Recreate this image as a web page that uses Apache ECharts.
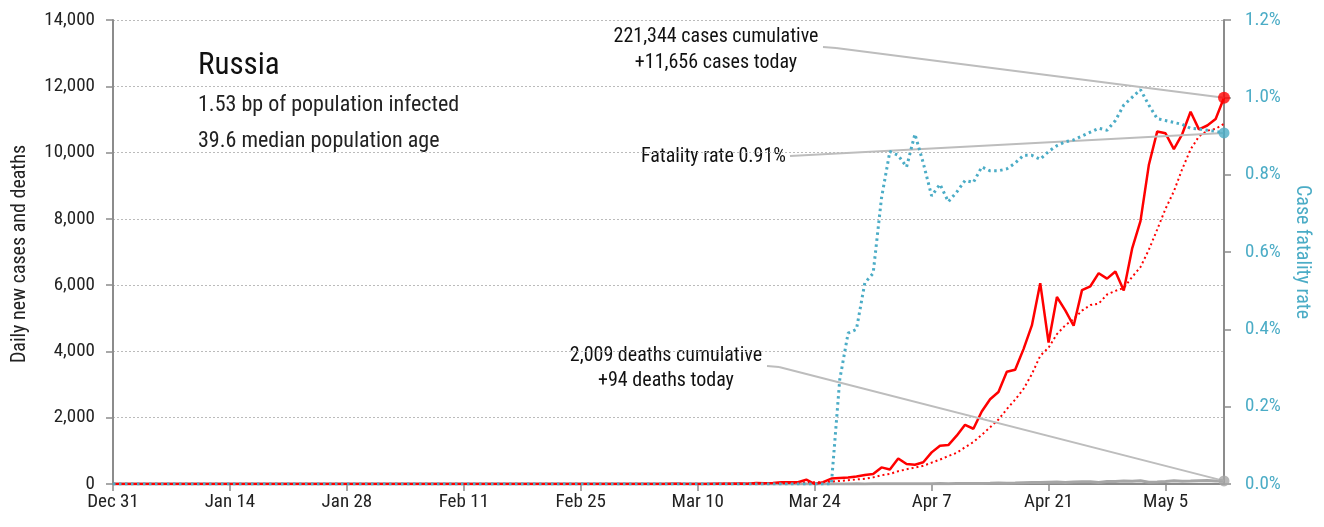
<!DOCTYPE html>
<html>
<head>
<meta charset="utf-8">
<script src="https://cdn.jsdelivr.net/npm/echarts@6/dist/echarts.min.js"></script>
<style>
  html, body { margin: 0; padding: 0; background: #fff; }
  #chart { width: 1324px; height: 527px; }
</style>
</head>
<body>
<div id="chart"></div>
<script>
// daily values, one per day from Dec 31 to May 12 (rows of 14 days)
const dailyCases = [
  0, 0, 0, 0, 0, 0, 0, 0, 0, 0, 0, 0, 0, 0,
  0, 0, 0, 0, 0, 0, 0, 0, 0, 0, 0, 0, 0, 0,
  0, 0, 0, 0, 2, 0, 0, 0, 0, 0, 0, 0, 0, 0,
  0, 0, 0, 0, 0, 0, 0, 0, 0, 0, 0, 0, 0, 0,
  0, 0, 0, 0, 0, 0, 0, 1, 0, 0, 1, 6, 4, 3,
  0, 3, 8, 6, 11, 14, 4, 30, 21, 33, 52, 54, 53, 132,
  0, 57, 163, 182, 196, 228, 270, 302, 501, 440, 771, 601, 582, 658,
  954, 1154, 1175, 1459, 1786, 1667, 2186, 2558, 2774, 3388, 3448, 4070, 4785, 6060,
  4268, 5642, 5236, 4774, 5849, 5966, 6361, 6198, 6411, 5841, 7099, 7933, 9623, 10633,
  10581, 10102, 10559, 11231, 10699, 10817, 11012, 11656
]

// 7-day average of new cases (dotted red)
const avgCases = [
  0, 0, 0, 0, 0, 0, 0, 0, 0, 0, 0, 0, 0, 0,
  0, 0, 0, 0, 0, 0, 0, 0, 0, 0, 0, 0, 0, 0,
  0, 0, 0, 0, 0, 0, 0, 0, 0, 0, 0, 0, 0, 0,
  0, 0, 0, 0, 0, 0, 0, 0, 0, 0, 0, 0, 0, 0,
  0, 0, 0, 0, 0, 0, 0, 0.1, 0.1, 0.1, 0.3, 1.1, 1.7, 2.1,
  2.0, 2.4, 3.6, 4.3, 5.0, 6.4, 6.6, 10.9, 13.4, 17.0, 23.6, 29.7, 35.3, 53.6,
  49.3, 54.4, 73, 91.6, 111.9, 136.9, 156.6, 199.7, 263.1, 302.7, 386.9, 444.7, 495.3, 550.7,
  643.9, 737.1, 842.1, 940.4, 1109.7, 1264.7, 1483, 1712.1, 1943.6, 2259.7, 2543.9, 2870.1, 3315.6, 3869,
  4113.3, 4523, 4787, 4976.4, 5230.6, 5399.3, 5442.3, 5718, 5827.9, 5914.3, 6246.4, 6544.1, 7066.6, 7676.9,
  8303, 8830.3, 9504.3, 10094.6, 10489.7, 10660.3, 10714.4, 10868
]

const dailyDeaths = [
  0, 0, 0, 0, 0, 0, 0, 0, 0, 0, 0, 0, 0, 0,
  0, 0, 0, 0, 0, 0, 0, 0, 0, 0, 0, 0, 0, 0,
  0, 0, 0, 0, 0, 0, 0, 0, 0, 0, 0, 0, 0, 0,
  0, 0, 0, 0, 0, 0, 0, 0, 0, 0, 0, 0, 0, 0,
  0, 0, 0, 0, 0, 0, 0, 0, 0, 0, 0, 0, 0, 0,
  0, 0, 0, 0, 0, 0, 0, 0, 0, 0, 0, 0, 0, 0,
  0, 1, 2, 0, 1, 4, 1, 8, 7, 6, 4, 9, 4, 11,
  5, 12, 5, 16, 12, 18, 18, 22, 28, 24, 28, 40, 48, 44,
  51, 57, 42, 60, 66, 66, 47, 73, 72, 91, 84, 96, 53, 58,
  76, 95, 86, 88, 98, 104, 88, 94
]

// case fatality rate, percent (dotted blue, right axis)
const fatalityRate = [
  0, 0, 0, 0, 0, 0, 0, 0, 0, 0, 0, 0, 0, 0,
  0, 0, 0, 0, 0, 0, 0, 0, 0, 0, 0, 0, 0, 0,
  0, 0, 0, 0, 0, 0, 0, 0, 0, 0, 0, 0, 0, 0,
  0, 0, 0, 0, 0, 0, 0, 0, 0, 0, 0, 0, 0, 0,
  0, 0, 0, 0, 0, 0, 0, 0, 0, 0, 0, 0, 0, 0,
  0, 0, 0, 0, 0, 0, 0, 0, 0, 0, 0, 0, 0, 0,
  0, 0, 0, 0.27, 0.39, 0.40, 0.52, 0.545, 0.74, 0.86, 0.85, 0.82, 0.905, 0.83,
  0.745, 0.775, 0.73, 0.755, 0.785, 0.78, 0.82, 0.81, 0.81, 0.815, 0.83, 0.85, 0.85, 0.84,
  0.86, 0.875, 0.885, 0.89, 0.90, 0.91, 0.92, 0.915, 0.94, 0.98, 1.00, 1.02, 0.98, 0.945,
  0.94, 0.935, 0.93, 0.92, 0.918, 0.915, 0.912, 0.908
]

const monthNames = ['Jan', 'Feb', 'Mar', 'Apr', 'May', 'Jun', 'Jul', 'Aug', 'Sep', 'Oct', 'Nov', 'Dec']
const dates = []
for (let i = 0; i < dailyCases.length; i++) {
  const d = new Date(2019, 11, 31 + i)
  dates.push(monthNames[d.getMonth()] + ' ' + d.getDate())
}
const last = dates.length - 1
const lastDate = dates[last]

const FONT = '"Roboto Condensed", sans-serif'
const RED = '#ff0000'
const BLUE = '#4bacc6'
const GREY = '#a6a6a6'
const LEADER = '#bdbdbd'
const everyTwoWeeks = (i) => i % 14 === 0

const leader = (segments) => ({
  silent: true,
  symbol: ['none', 'none'],
  label: { show: false },
  emphasis: { disabled: true },
  lineStyle: { type: 'solid', color: LEADER, width: 2 },
  animation: false,
  data: segments
})

const chart = echarts.init(document.getElementById('chart'))
chart.setOption({
  animation: false,
  textStyle: { fontFamily: FONT },
  grid: { left: 113, right: 100, top: 20, bottom: 43 },
  xAxis: {
    type: 'category',
    data: dates,
    boundaryGap: false,
    axisLine: { lineStyle: { color: '#8c8c8c', width: 2 } },
    axisTick: { interval: everyTwoWeeks, length: 7, lineStyle: { color: '#8c8c8c', width: 1.5 } },
    axisLabel: { interval: everyTwoWeeks, fontSize: 19, color: '#222', margin: 9, fontFamily: FONT },
    splitLine: { show: false }
  },
  yAxis: [{
    type: 'value',
    min: 0,
    max: 14000,
    interval: 2000,
    axisLine: { show: true, lineStyle: { color: '#8c8c8c', width: 2 } },
    axisTick: { show: true, length: 7, lineStyle: { color: '#8c8c8c', width: 1.5 } },
    axisLabel: { fontSize: 19, color: '#222', margin: 18, fontFamily: FONT },
    splitLine: { lineStyle: { type: [2, 2], color: '#bbbbbb', width: 1 } }
  }, {
    type: 'value',
    position: 'right',
    min: 0,
    max: 1.2,
    interval: 0.2,
    name: 'Case fatality rate',
    nameLocation: 'middle',
    nameGap: 66,
    nameRotate: -90,
    nameTextStyle: { fontSize: 20, color: BLUE, fontFamily: FONT },
    axisLine: { show: true, lineStyle: { color: '#8c8c8c', width: 2 } },
    axisTick: { show: true, length: 7, lineStyle: { color: '#8c8c8c', width: 1.5 } },
    axisLabel: { fontSize: 19, color: BLUE, margin: 21, fontFamily: FONT, formatter: (v) => v.toFixed(1) + '%' },
    splitLine: { show: false }
  }],
  series: [{
    name: 'Daily deaths',
    type: 'line',
    data: dailyDeaths,
    symbol: 'none',
    lineStyle: { color: GREY, width: 3 },
    z: 2,
    markLine: leader([
      [{ x: 767, y: 366 }, { x: 779, y: 367 }],
      [{ x: 779, y: 367 }, { coord: [lastDate, dailyDeaths[last]] }]
    ])
  }, {
    name: 'Average cases',
    type: 'line',
    data: avgCases,
    symbol: 'none',
    lineStyle: { color: RED, width: 2, type: [2, 3] },
    z: 3
  }, {
    name: 'Daily cases',
    type: 'line',
    data: dailyCases,
    symbol: 'none',
    lineStyle: { color: RED, width: 2.5 },
    z: 4,
    markLine: leader([
      [{ x: 823, y: 47 }, { x: 836, y: 48 }],
      [{ x: 836, y: 48 }, { coord: [lastDate, dailyCases[last]] }]
    ])
  }, {
    name: 'Case fatality rate',
    type: 'line',
    yAxisIndex: 1,
    data: fatalityRate,
    symbol: 'none',
    lineStyle: { color: BLUE, width: 3, type: [2.5, 3.5] },
    z: 5,
    markLine: leader([
      [{ x: 790, y: 156 }, { coord: [lastDate, fatalityRate[last]] }]
    ])
  }, {
    type: 'scatter',
    data: [[lastDate, dailyCases[last]]],
    symbolSize: 12,
    itemStyle: { color: RED },
    z: 6
  }, {
    type: 'scatter',
    yAxisIndex: 1,
    data: [[lastDate, fatalityRate[last]]],
    symbolSize: 11,
    itemStyle: { color: BLUE },
    z: 6
  }, {
    type: 'scatter',
    data: [[lastDate, dailyDeaths[last]]],
    symbolSize: 11,
    itemStyle: { color: GREY },
    z: 6
  }],
  graphic: [
    // left axis title, placed by hand so it sits centred like the original
    { type: 'text', x: 20, y: 254, rotation: Math.PI / 2, style: { text: 'Daily new cases and deaths', font: '20px ' + FONT, fill: '#222', align: 'center', verticalAlign: 'middle' } },
    { type: 'text', x: 198, y: 66, style: { text: 'Russia', font: '31px ' + FONT, fill: '#111', verticalAlign: 'middle' } },
    { type: 'text', x: 198, y: 105, style: { text: '1.53 bp of population infected', font: '22px ' + FONT, fill: '#222', verticalAlign: 'middle' } },
    { type: 'text', x: 198, y: 141, style: { text: '39.6 median population age', font: '22px ' + FONT, fill: '#222', verticalAlign: 'middle' } },
    { type: 'text', x: 716, y: 37, style: { text: '221,344 cases cumulative', font: '20px ' + FONT, fill: '#111', align: 'center', verticalAlign: 'middle' } },
    { type: 'text', x: 716, y: 63, style: { text: '+11,656 cases today', font: '20px ' + FONT, fill: '#111', align: 'center', verticalAlign: 'middle' } },
    { type: 'text', x: 786, y: 157, style: { text: 'Fatality rate 0.91%', font: '20px ' + FONT, fill: '#111', align: 'right', verticalAlign: 'middle' } },
    { type: 'text', x: 666, y: 356, style: { text: '2,009 deaths cumulative', font: '20px ' + FONT, fill: '#111', align: 'center', verticalAlign: 'middle' } },
    { type: 'text', x: 666, y: 381, style: { text: '+94 deaths today', font: '20px ' + FONT, fill: '#111', align: 'center', verticalAlign: 'middle' } }
  ]
})
</script>
</body>
</html>
